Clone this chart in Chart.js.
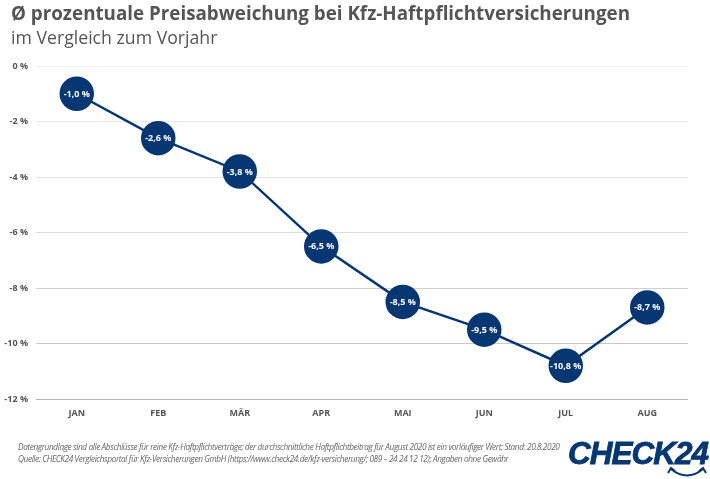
<!DOCTYPE html>
<html lang="de">
<head>
<meta charset="utf-8">
<title>Preisabweichung Kfz-Haftpflicht</title>
<script src="https://cdn.jsdelivr.net/npm/chart.js@4"></script>
<style>
    html, body { margin: 0; padding: 0; background: #fff; }
    .page { position: relative; width: 710px; height: 479px; overflow: hidden; font-family: "Open Sans", sans-serif; }
    canvas { position: absolute; left: 0; top: 0; }
    .title { position: absolute; left: 11px; top: 0px; font-size: 18.8px; font-weight: 700; color: #555; white-space: nowrap; }
    .subtitle { position: absolute; left: 11px; top: 25px; font-size: 17.7px; color: #555; white-space: nowrap; }
    .note { position: absolute; left: 18px; font-size: 9.5px; font-style: italic; color: #666; white-space: nowrap; letter-spacing: -0.45px; transform: scaleX(0.87); transform-origin: left top; }
    .logo { position: absolute; left: 568px; top: 435px; font-size: 31.5px; font-weight: 700; font-style: italic; color: #063773; font-family: "Liberation Sans", sans-serif; letter-spacing: -1px; -webkit-text-stroke: 0.8px #063773; white-space: nowrap; }
    .smile { position: absolute; left: 666px; top: 465px; }
</style>
</head>
<body>
<div class="page">
    <canvas id="priceChart" width="710" height="479"></canvas>
    <div class="title">Ø prozentuale Preisabweichung bei Kfz-Haftpflichtversicherungen</div>
    <div class="subtitle">im Vergleich zum Vorjahr</div>
    <div class="note" style="top:440px">Datengrundlage sind alle Abschlüsse für reine Kfz-Haftpflichtverträge; der durchschnittliche Haftpflichtbeitrag für August 2020 ist ein vorläufiger Wert; Stand: 20.8.2020</div>
    <div class="note" style="top:452px">Quelle: CHECK24 Vergleichsportal für Kfz-Versicherungen GmbH (https://www.check24.de/kfz-versicherung/; 089 – 24 24 12 12); Angaben ohne Gewähr</div>
    <div class="logo">CHECK24</div>
    <svg class="smile" width="42" height="14" viewBox="0 0 42 14">
        <path d="M5 4 Q21 17 37 4" fill="none" stroke="#063773" stroke-width="2"/>
        <path d="M2 8 L5 3 L9 6 M33 6 L37 3 L40 8" fill="none" stroke="#063773" stroke-width="2"/>
    </svg>
</div>
<script>
const months = ["JAN", "FEB", "MÄR", "APR", "MAI", "JUN", "JUL", "AUG"];
const priceChange = [-1.0, -2.6, -3.8, -6.5, -8.5, -9.5, -10.8, -8.7];
const gridColors = ["#eeeeee", "#e8e8e8", "#e2e2e2", "#dcdcdc", "#cfcfcf", "#c8c8c8", "#b5b5b5"];

// white value inside each circle
const valueLabels = {
    id: "valueLabels",
    afterDatasetsDraw(chart) {
        const ctx = chart.ctx;
        ctx.save();
        ctx.fillStyle = "#fff";
        ctx.font = "700 9px 'Open Sans'";
        ctx.textAlign = "center";
        ctx.textBaseline = "middle";
        chart.getDatasetMeta(0).data.forEach((pt, i) => {
            const txt = priceChange[i].toFixed(1).replace(".", ",") + " %";
            ctx.fillText(txt, pt.x, pt.y + 0.5);
        });
        ctx.restore();
    }
};

new Chart(document.getElementById("priceChart"), {
    type: "line",
    plugins: [valueLabels],
    data: {
        labels: months,
        datasets: [{
            data: priceChange,
            borderColor: "#063773",
            backgroundColor: "#063773",
            borderWidth: 2.5,
            tension: 0,
            pointRadius: 16,
            pointHoverRadius: 16
        }]
    },
    options: {
        responsive: false,
        animation: false,
        devicePixelRatio: 1,
        layout: { padding: { top: 66, left: 0, right: 22, bottom: 0 } },
        plugins: { legend: { display: false }, tooltip: { enabled: false } },
        scales: {
            x: {
                offset: true,
                afterFit: (scale) => { scale.height = 80; },
                grid: { display: false },
                border: { display: false },
                ticks: { color: "#555", font: { size: 9, weight: "700", family: "Open Sans" }, padding: 1, maxRotation: 0 }
            },
            y: {
                min: -12,
                max: 0,
                afterFit: (scale) => { scale.width = 36; },
                border: { display: false },
                grid: {
                    tickLength: 0,
                    lineWidth: 1,
                    color: (c) => gridColors[Math.round(-c.tick.value / 2)]
                },
                ticks: {
                    stepSize: 2,
                    color: "#555",
                    padding: 8,
                    font: { size: 9, weight: "700", family: "Open Sans" },
                    callback: (v) => v + " %"
                }
            }
        }
    }
});
</script>
</body>
</html>
